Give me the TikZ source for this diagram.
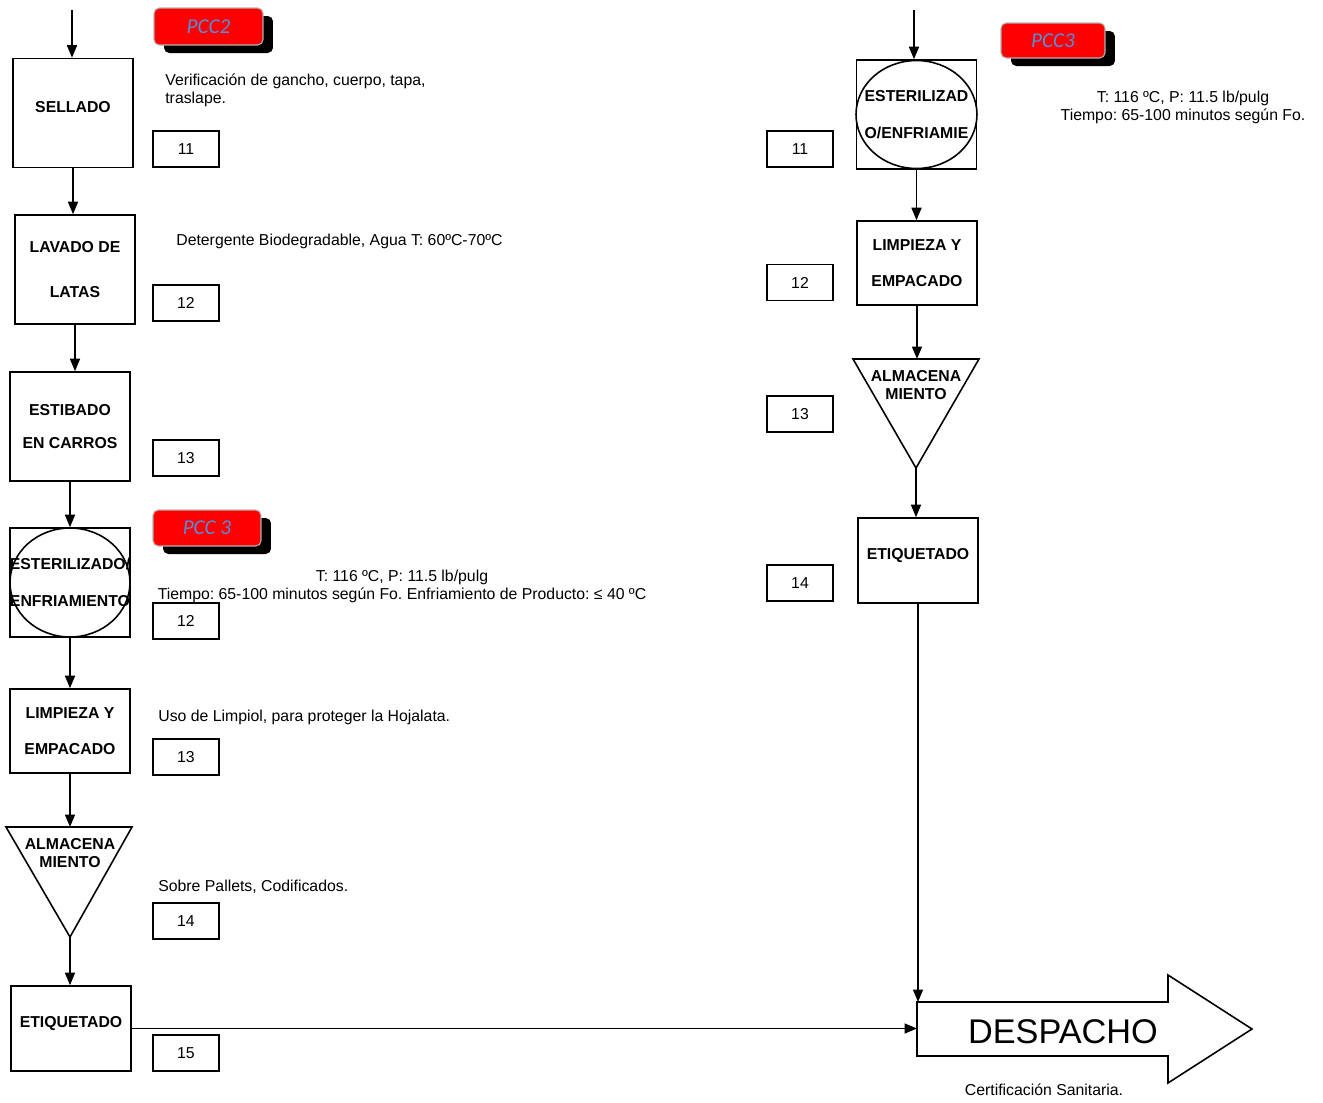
\documentclass[tikz,border=0pt]{standalone}
\usepackage{fontspec}
\setmainfont{Liberation Sans}
\newfontfamily\calfont{Carlito}
\usetikzlibrary{arrows.meta,shadows}
\definecolor{pccblue}{RGB}{85,142,213}
\frenchspacing

\tikzset{
  procbox/.style={draw, line width=0.9pt, minimum width=2.4cm, minimum height=2.18cm, align=center, inner sep=0pt, font=\fontsize{9}{10.8}\selectfont\bfseries},
  onebox/.style={procbox, text depth=7pt},
  twobox/.style={procbox, text depth=-4.5pt},
  numbox/.style={draw, line width=1pt, minimum width=1.32cm, minimum height=0.72cm, font=\fontsize{9}{10.8}\selectfont},
  badge/.style={draw=gray!60, line width=0.6pt, fill=red, rounded corners=3pt, minimum width=2.16cm, minimum height=0.72cm, font=\calfont\itshape\fontsize{12}{13}\selectfont, text=pccblue, drop shadow={shadow xshift=0.2cm, shadow yshift=-0.16cm, fill=black, opacity=1}},
  note/.style={inner sep=0pt, font=\fontsize{9}{10.2}\selectfont},
  almtext/.style={inner sep=0pt, align=center, font=\fontsize{9}{10.2}\selectfont\bfseries},
  flow/.style={line width=0.9pt, -{Triangle[length=2.5mm,width=2mm]}},
  link/.style={line width=0.9pt},
}

\begin{document}
\begin{tikzpicture}[x=0.02cm, y=-0.02cm]
  \useasboundingbox (0,0) rectangle (1323,1103);

  % left column
  \coordinate (in1) at (72,10);
  \node[onebox] (sellado) at (73,113) {SELLADO};
  \node[twobox] (lavado) at (75,269.5) {LAVADO DE\\[15pt]LATAS};
  \node[twobox] (estibado) at (70,426.5) {ESTIBADO\\[8pt]EN CARROS};
  \node[procbox] (ester) at (70,582.5) {ESTERILIZADO/\\[10pt]ENFRIAMIENTO};
  \draw[link] (ester.center) ellipse [x radius=1.2cm, y radius=1.09cm];
  \node[twobox, minimum height=1.68cm] (limp) at (70,731) {LIMPIEZA Y\\[9.6pt]EMPACADO};
  \coordinate (almtop) at (70,827);
  \coordinate (almtip) at (70,937);
  \draw[link] (6,827) -- (132,827) -- (almtip) -- cycle;
  \node[almtext] (alm) at (70,853) {ALMACENA\\MIENTO};
  \node[onebox, minimum height=1.7cm] (etiq) at (71,1028.5) {ETIQUETADO};

  \draw[flow] (in1) -- (in1 |- sellado.north);
  \draw[flow] (sellado.south) -- (sellado.south |- lavado.north);
  \draw[flow] (lavado.south) -- (lavado.south |- estibado.north);
  \draw[flow] (estibado.south) -- (estibado.south |- ester.north);
  \draw[flow] (ester.south) -- (ester.south |- limp.north);
  \draw[flow] (limp.south) -- (almtop);
  \draw[flow] (almtip) -- (almtip |- etiq.north);

  % numbers left
  \node[numbox] (n1) at (186,149) {11};
  \node[numbox] (n2) at (186,303) {12};
  \node[numbox] (n3) at (186,458) {13};
  \node[numbox] (n4) at (186,621) {12};
  \node[numbox] (n5) at (186,757) {13};
  \node[numbox] (n6) at (186,921) {14};
  \node[numbox] (n7) at (186,1053) {15};

  % badges
  \node[badge, minimum width=2.18cm, minimum height=0.74cm] (pcc2) at (208.5,26.5) {PCC2};
  \node[badge] (pcc3a) at (207,528) {PCC 3};
  \node[badge, minimum width=2.08cm, minimum height=0.7cm] (pcc3b) at (1053,40.5) {PCC3};

  % notes
  \node[note, anchor=west, align=left] (ver) at (165,90) {Verificación de gancho, cuerpo, tapa,\\traslape.};
  \node[note, anchor=west] (det) at (176,241) {Detergente Biodegradable, Agua T: 60ºC-70ºC};
  \node[note, align=center] (temp1) at (402,586) {T: 116 ºC, P: 11.5 lb/pulg\\Tiempo: 65-100 minutos según Fo. Enfriamiento de Producto: ≤ 40 ºC};
  \node[note, anchor=west] (uso) at (158,717) {Uso de Limpiol, para proteger la Hojalata.};
  \node[note, anchor=west] (sob) at (158,887) {Sobre Pallets, Codificados.};
  \node[note, align=center] (temp2) at (1183,107) {T: 116 ºC, P: 11.5 lb/pulg\\Tiempo: 65-100 minutos según Fo.};
  \node[note] (cert) at (1044,1090) {Certificación Sanitaria.};

  % right column
  \coordinate (in2) at (914,10);
  \node[procbox] (rester) at (916.5,114.5) {ESTERILIZAD\\[10pt]O/ENFRIAMIE};
  \draw[link] (rester.center) ellipse [x radius=1.21cm, y radius=1.08cm];
  \node[twobox, minimum height=1.68cm] (rlimp) at (917,263) {LIMPIEZA Y\\[10pt]EMPACADO};
  \coordinate (ralmtop) at (916,359);
  \coordinate (ralmtip) at (916,468);
  \draw[link] (853,359) -- (979,359) -- (ralmtip) -- cycle;
  \node[almtext] (ralm) at (916,385) {ALMACENA\\MIENTO};
  \node[onebox, minimum height=1.7cm] (retiq) at (918,560.5) {ETIQUETADO};

  \draw[flow] (in2) -- (in2 |- rester.north);
  \draw[flow] (rester.south) -- (rester.south |- rlimp.north);
  \draw[flow] (rlimp.south) -- (rlimp.south |- ralmtop);
  \draw[flow] (ralmtip) -- (ralmtip |- retiq.north);

  % numbers right
  \node[numbox] (rn1) at (800,149) {11};
  \node[numbox] (rn2) at (800,282.5) {12};
  \node[numbox] (rn3) at (800,414) {13};
  \node[numbox] (rn4) at (800,583) {14};

  % despacho
  \coordinate (dtop) at (917,1002);
  \draw[link] (dtop) -- (1168,1002) -- (1168,975) -- (1252,1029) -- (1168,1083) -- (1168,1056) -- (917,1056) -- cycle;
  \node[inner sep=0pt, font=\fontsize{19.5}{22}\selectfont] (desp) at (1063,1032) {DESPACHO};

  \draw[flow] (retiq.south) -- (retiq.south |- dtop);
  \draw[flow] (etiq.east) -- (etiq.east -| dtop);
\end{tikzpicture}
\end{document}
